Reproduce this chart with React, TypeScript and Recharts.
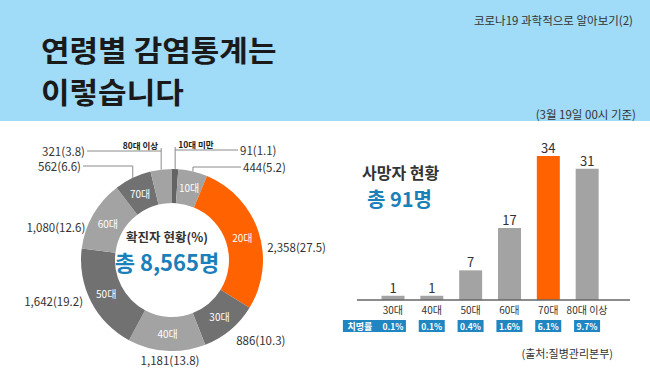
import React from 'react';
import { PieChart, Pie, Cell, BarChart, Bar, XAxis, YAxis, LabelList } from 'recharts';

// ---- data ----
const ageGroups = ['10대 미만', '10대', '20대', '30대', '40대', '50대', '60대', '70대', '80대 이상'];
const caseCounts = [91, 444, 2358, 886, 1181, 1642, 1080, 562, 321];
const casePercents = [1.1, 5.2, 27.5, 10.3, 13.8, 19.2, 12.6, 6.6, 3.8];
const totalCases = '8,565';

const deathGroups = ['30대', '40대', '50대', '60대', '70대', '80대 이상'];
const deathCounts = [1, 1, 7, 17, 34, 31];
const fatalityRates = ['0.1%', '0.1%', '0.4%', '1.6%', '6.1%', '9.7%'];
const totalDeaths = 91;

const titleLines = ['연령별 감염통계는', '이렇습니다'];

// ---- styles ----
const FONT = "'Noto Sans CJK KR', 'Noto Sans', sans-serif";
const DARK = '#717171';
const LIGHT = '#a3a3a3';
const ORANGE = '#ff6200';
const BLUE = '#1b7fb9';
const BOX_BLUE = '#1f86c2';
const sliceColors = ['#636363', LIGHT, ORANGE, DARK, LIGHT, DARK, LIGHT, DARK, LIGHT];
const barColors = [LIGHT, LIGHT, LIGHT, LIGHT, ORANGE, LIGHT];

// label layout (placement of outer labels, separate from data)
const pieLabelLayout: any[] = [
  { leader: true, rowDy: -110, endDx: 66 },
  { leader: true, rowDy: -93, endDx: 69 },
  { leader: false, adjX: 0, adjY: 18 },
  { leader: false, adjX: 0, adjY: 3 },
  { leader: false, adjX: 4, adjY: 0 },
  { leader: false, adjX: 0, adjY: -5 },
  { leader: false, adjX: 0, adjY: 17 },
  { leader: true, rowDy: -94, endDx: -89 },
  { leader: true, rowDy: -109, endDx: -85 },
];

const pieData = ageGroups.map((name, i) => ({ name, value: casePercents[i], count: caseCounts[i] }));
const barData = deathGroups.map((group, i) => ({ group, deaths: deathCounts[i], rate: fatalityRates[i] }));

const RAD = Math.PI / 180;

const renderPieLabel = (props: any) => {
  const { cx, cy, midAngle, innerRadius, outerRadius, index, percent } = props;
  const cos = Math.cos(-midAngle * RAD);
  const sin = Math.sin(-midAngle * RAD);
  const midR = (innerRadius + outerRadius) / 2;
  const ix = cx + midR * cos;
  const iy = cy + midR * sin;
  const ex = cx + outerRadius * cos;
  const ey = cy + outerRadius * sin;
  const lay = pieLabelLayout[index];
  const valueText = `${caseCounts[index].toLocaleString('en-US')}(${casePercents[index].toFixed(1)})`;
  const thin = percent < 0.05;
  const inner = !thin ? (
    <text x={ix} y={iy} fill="#fff" fontSize={10} textAnchor="middle" dominantBaseline="central" fontFamily={FONT}>
      {ageGroups[index]}
    </text>
  ) : null;
  if (lay.leader) {
    const rowY = cy + lay.rowDy;
    const endX = cx + lay.endDx;
    const side = lay.endDx > 0 ? 1 : -1;
    return (
      <g key={`lbl-${index}`}>
        {inner}
        <polyline
          points={`${ex},${ey} ${ex},${thin ? rowY - 3 : rowY}`}
          fill="none"
          stroke="#8a8a8a"
          strokeWidth={1}
        />
        <line x1={ex} y1={rowY} x2={endX} y2={rowY} stroke="#8a8a8a" strokeWidth={1} />
        <text x={endX + side * 2} y={rowY} fill="#333" fontSize={11.5} textAnchor={side > 0 ? 'start' : 'end'} dominantBaseline="central" fontFamily={FONT}>
          {valueText}
        </text>
        {thin ? (
          <text x={ex + side * 3} y={rowY - 6} fill="#222" fontSize={8.5} fontWeight="bold" textAnchor={side > 0 ? 'start' : 'end'} dominantBaseline="central" fontFamily={FONT}>
            {ageGroups[index]}
          </text>
        ) : null}
      </g>
    );
  }
  const r = outerRadius + 9;
  const tx = cx + r * cos + lay.adjX;
  const ty = cy + r * sin + lay.adjY;
  const anchor = Math.abs(cos) < 0.2 ? 'middle' : cos > 0 ? 'start' : 'end';
  return (
    <g key={`lbl-${index}`}>
      {inner}
      <text x={tx} y={ty} fill="#333" fontSize={11.5} textAnchor={anchor} dominantBaseline="central" fontFamily={FONT}>
        {valueText}
      </text>
    </g>
  );
};

const RateTick = (props: any) => {
  const { x, y, payload } = props;
  const i = deathGroups.indexOf(payload.value);
  return (
    <g>
      <text x={x} y={y + 9} fill="#333" fontSize={10} textAnchor="middle" dominantBaseline="central" fontFamily={FONT}>
        {payload.value}
      </text>
      {i === 0 ? (
        <g>
          <rect x={x - 50} y={y + 20} width={38} height={12} fill={BOX_BLUE} />
          <text x={x - 33} y={y + 26} fill="#fff" fontSize={9} fontWeight="bold" textAnchor="middle" dominantBaseline="central" fontFamily={FONT}>
            치명률
          </text>
        </g>
      ) : null}
      <rect x={x - 13} y={y + 20} width={26} height={12} fill={BOX_BLUE} />
      <text x={x} y={y + 26} fill="#fff" fontSize={8.5} fontWeight="bold" textAnchor="middle" dominantBaseline="central" fontFamily={FONT}>
        {fatalityRates[i]}
      </text>
    </g>
  );
};

export default function App() {
  return (
    <div style={{ position: 'absolute', left: 0, top: 0, width: 650, height: 371, overflow: 'hidden', background: '#fff', fontFamily: FONT }}>
      <div style={{ position: 'absolute', left: 0, top: 0, width: 650, height: 121, background: '#a0dbf8' }} />
      <div
        style={{
          position: 'absolute',
          left: 41,
          top: 28,
          fontSize: 29,
          lineHeight: '42px',
          fontWeight: 'bold',
          color: '#1a1a1a',
          whiteSpace: 'nowrap',
          transform: 'scale(1.07, 1)',
          transformOrigin: 'left top',
        }}
      >
        {titleLines.map((t) => (
          <div key={t} style={{ height: 42, lineHeight: '42px' }}>{t}</div>
        ))}
      </div>
      <svg width={650} height={371} style={{ position: 'absolute', left: 0, top: 0 }}>
        <text x={633} y={20} fill="#333" fontSize={11.5} textAnchor="end" dominantBaseline="central" fontFamily={FONT}>
          코로나19 과학적으로 알아보기(2)
        </text>
        <text x={636} y={114} fill="#333" fontSize={11.5} textAnchor="end" dominantBaseline="central" fontFamily={FONT}>
          (3월 19일 00시 기준)
        </text>
        <text x={362} y={172} fill="#333" fontSize={16} fontWeight={600} dominantBaseline="central" fontFamily={FONT}>
          사망자 현황
        </text>
        <text x={367} y={198} fill={BLUE} fontSize={20} fontWeight="bold" dominantBaseline="central" fontFamily={FONT}>
          {`총 ${totalDeaths}명`}
        </text>
        <text x={613} y={353} fill="#333" fontSize={11} textAnchor="end" dominantBaseline="central" fontFamily={FONT}>
          (출처:질병관리본부)
        </text>
      </svg>
      <div style={{ position: 'absolute', left: 0, top: 121 }}>
        <PieChart width={330} height={250}>
          <Pie
            data={pieData}
            dataKey="value"
            cx={167}
            cy={134}
            innerRadius={57}
            outerRadius={91}
            startAngle={90}
            endAngle={-270}
            stroke="none"
            label={renderPieLabel}
            labelLine={false}
            isAnimationActive={false}
          >
            {pieData.map((d, i) => (
              <Cell key={d.name} fill={sliceColors[i]} />
            ))}
          </Pie>
          <text x={167} y={115} fill="#333" fontSize={12.5} fontWeight={600} textAnchor="middle" dominantBaseline="central" fontFamily={FONT}>
            확진자 현황(%)
          </text>
          <text x={167} y={140} fill={BLUE} fontSize={22} fontWeight="bold" textAnchor="middle" dominantBaseline="central" fontFamily={FONT}>
            {`총 ${totalCases}명`}
          </text>
        </PieChart>
      </div>
      <div style={{ position: 'absolute', left: 330, top: 121 }}>
        <BarChart width={320} height={250} data={barData} margin={{ top: 35, right: 20, bottom: 21, left: 27 }}>
          <XAxis
            dataKey="group"
            axisLine={{ stroke: '#666', strokeWidth: 1.5 }}
            tickLine={false}
            tickSize={0}
            tickMargin={0}
            tick={<RateTick />}
            height={50}
            interval={0}
            padding={{ left: 16.5, right: 23.5 }}
          />
          <YAxis hide domain={[0, 34]} />
          <Bar dataKey="deaths" barSize={23} isAnimationActive={false}>
            {barData.map((d, i) => (
              <Cell key={d.group} fill={barColors[i]} />
            ))}
            <LabelList dataKey="deaths" position="top" offset={3} fill="#333" fontSize={13} fontFamily={FONT} />
          </Bar>
        </BarChart>
      </div>
    </div>
  );
}
